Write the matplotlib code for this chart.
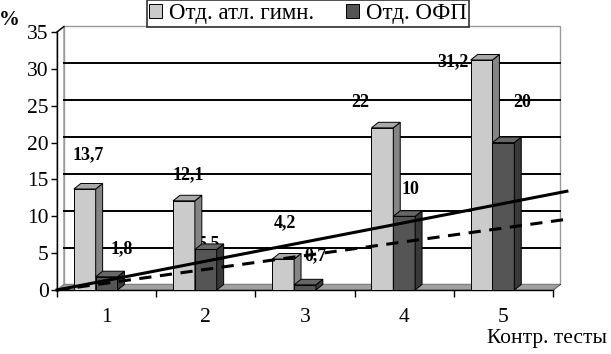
import matplotlib.pyplot as plt
import numpy as np
from matplotlib.patches import Polygon, Patch

plt.rcParams['font.family'] = ['Liberation Serif', 'DejaVu Serif']

# data
categories = ['1', '2', '3', '4', '5']
atl_gymn = [13.7, 12.1, 4.2, 22, 31.2]
ofp = [1.8, 5.5, 0.7, 10, 20]
atl_labels = ['13,7', '12,1', '4,2', '22', '31,2']
ofp_labels = ['1,8', '5,5', '0,7', '10', '20']
series_names = ['Отд. атл. гимн.', 'Отд. ОФП']

# trend lines (end points)
trend_x = [0.5, 5.64]
trend_solid = [0, 13.4]
trend_dash = [0, 9.6]

# label positions (as drawn in the original 3d chart)
atl_lab_x = [0.81, 1.82, 2.80, 3.56, 4.49]
atl_lab_y = [18.3, 15.7, 9.1, 25.5, 31.0]
ofp_lab_x = [1.15, 2.03, 3.11, 4.06, 5.19]
ofp_lab_y = [5.6, 6.3, 4.6, 13.7, 25.5]

fig = plt.figure(figsize=(6.11, 3.54), dpi=100)
ax = fig.add_axes([57/611, 64/354, 496/611, 258/354])
ax.set_xlim(0.5, 5.5)
ax.set_ylim(0, 35)

dx, dy = 0.07, 0.75  # depth offset
x = np.arange(1, len(categories) + 1)

# back wall, side wall, floor
wall = Polygon([(0.5 + dx, dy), (0.5 + dx, 35 + dy), (5.5 + dx, 35 + dy), (5.5 + dx, dy)],
               closed=True, fc='white', ec='#9a9a9a', lw=1, clip_on=False, zorder=0)
ax.add_patch(wall)
side = Polygon([(0.5, 0), (0.5, 35), (0.5 + dx, 35 + dy), (0.5 + dx, dy)],
               closed=True, fc='white', ec='#9a9a9a', lw=1, clip_on=False, zorder=0.5)
ax.add_patch(side)
for v in range(5, 35, 5):
    ax.plot([0.5 + dx, 5.5 + dx], [v + dy, v + dy], color='black', lw=1.4,
            clip_on=False, zorder=1)
floor = Polygon([(0.5, 0), (5.5, 0), (5.5 + dx, dy), (0.5 + dx, dy)],
                closed=True, fc='#a0a0a0', ec='#808080', lw=0.8, clip_on=False, zorder=1.5)
ax.add_patch(floor)

# data labels (behind the columns)
for i in range(len(x)):
    ax.text(atl_lab_x[i], atl_lab_y[i], atl_labels[i], ha='center', va='center',
            fontsize=13, fontweight='bold', zorder=2)
    ax.text(ofp_lab_x[i], ofp_lab_y[i], ofp_labels[i], ha='center', va='center',
            fontsize=13, fontweight='bold', zorder=2)


def column(left, h, w, face, sidec, topc, z):
    ax.bar(left, h, width=w, align='edge', color=face, edgecolor='black', lw=0.7, zorder=z)
    r = left + w
    ax.add_patch(Polygon([(r, 0), (r + dx, dy), (r + dx, h + dy), (r, h)], closed=True,
                         fc=sidec, ec='black', lw=0.7, zorder=z, clip_on=False))
    ax.add_patch(Polygon([(left, h), (r, h), (r + dx, h + dy), (left + dx, h + dy)], closed=True,
                         fc=topc, ec='black', lw=0.7, zorder=z, clip_on=False))


w = 0.22
z = 3
for i in range(len(x)):
    column(x[i] - 0.33, atl_gymn[i], w, '#cbcbcb', '#858585', '#a9a9a9', z)
    z += 0.1
    column(x[i] - 0.11, ofp[i], w, '#555555', '#393939', '#666666', z)
    z += 0.1

# trend lines
ax.plot(trend_x, trend_solid, color='black', lw=2.2, clip_on=False, zorder=10)
ax.plot(trend_x, trend_dash, color='black', lw=2.2, ls=(0, (4, 2.8)), clip_on=False, zorder=10)

# axes
for s in ['top', 'right']:
    ax.spines[s].set_visible(False)
ax.spines['left'].set_linewidth(1)
ax.spines['bottom'].set_linewidth(1)
ax.plot([0.5, 0.5 + dx], [35, 35 + dy], color='black', lw=1, clip_on=False, zorder=1)
ax.plot([5.5, 5.5 + dx], [0, dy], color='black', lw=1, clip_on=False, zorder=1)

ax.set_yticks(np.arange(0, 36, 5))
ax.tick_params(axis='y', direction='out', length=4, width=1, pad=2, labelsize=15.5)
ax.set_xticks(x)
ax.set_xticklabels(categories)
ax.tick_params(axis='x', which='major', length=0, pad=13, labelsize=15.5)
ax.set_xticks(np.arange(0.5, 5.6, 1), minor=True)
ax.tick_params(axis='x', which='minor', direction='out', length=5, width=1)

fig.text(9/611, 1 - 20/354, '%', fontsize=15, fontweight='bold', ha='center', va='center')
fig.text(607/611, 1 - 343/354, 'Контр. тесты', fontsize=15.5, ha='right', va='baseline')

handles = [Patch(fc='#cbcbcb', ec='black', lw=0.7), Patch(fc='#555555', ec='black', lw=0.7)]
leg = fig.legend(handles, series_names, loc='upper center', bbox_to_anchor=(308/611, 1.0),
                 ncol=2, fontsize=16.5, frameon=True, fancybox=False, edgecolor='black',
                 handlelength=0.55, handleheight=0.55, handletextpad=0.3, columnspacing=1.4,
                 borderpad=0.12, borderaxespad=0)
leg.get_frame().set_linewidth(1.2)

plt.savefig('out.png', dpi=100)
